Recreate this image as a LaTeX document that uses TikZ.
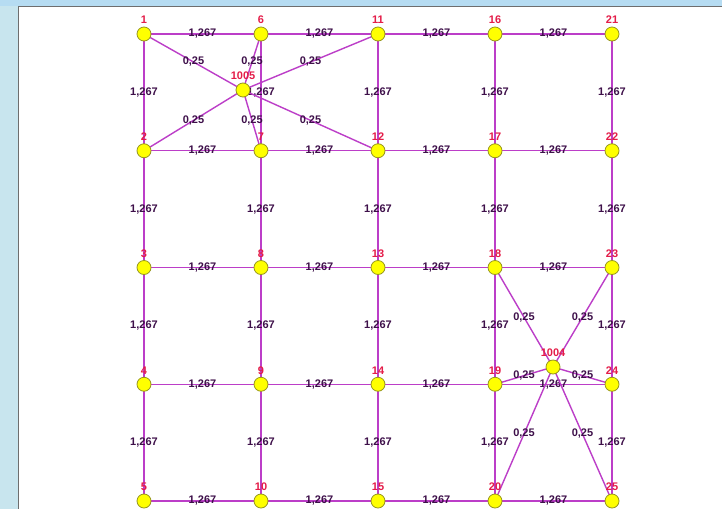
\documentclass[tikz,border=0pt]{standalone}
\usepackage{fontspec}
\setmainfont{Liberation Sans}
\pgfdeclarelayer{back}
\pgfdeclarelayer{edges}
\pgfsetlayers{back,edges,main}
\definecolor{edgec}{RGB}{188,62,200}
\definecolor{wtc}{RGB}{62,16,74}
\definecolor{idc}{RGB}{228,28,72}
\definecolor{nodefill}{RGB}{255,255,0}
\definecolor{nodeline}{RGB}{150,150,30}
\definecolor{bluebg}{RGB}{200,229,238}
\definecolor{bluetop}{RGB}{182,220,242}
\definecolor{panelline}{RGB}{110,110,110}
\tikzset{
  vtx/.style={circle, fill=nodefill, draw=nodeline, line width=0.8pt, minimum size=14pt, inner sep=0pt},
  idlab/.style={text=idc, font=\bfseries\fontsize{11}{11}\selectfont, inner sep=0pt},
  edge/.style={draw=edgec, line width=1.4pt},
  wt/.style={text=wtc, font=\bfseries\fontsize{11}{11}\selectfont, inner sep=0pt, midway},
}
\begin{document}
\begin{tikzpicture}[x=1pt,y=-1pt]
\useasboundingbox (0,0) rectangle (722,509);
\begin{pgfonlayer}{back}
  \fill[bluebg] (0,0) rectangle (722,509);
  \fill[bluetop] (0,0) rectangle (722,6);
  \fill[white] (18,6) rectangle (722,509);
  \draw[panelline, line width=1pt] (722,6) -- (18,6) -- (18,509);
\end{pgfonlayer}
% grid vertices
\foreach \c in {0,...,4} {
  \foreach \r in {1,...,5} {
    \pgfmathtruncatemacro\i{5*\c+\r}
    \node[vtx, label={[idlab, label distance=2.5pt]above:\i}] (n\i) at ({144+117*\c},{34+116.75*(\r-1)}) {};
  }
}
\node[vtx, label={[idlab, label distance=2.5pt]above:1005}] (n1005) at (243,90) {};
\node[vtx, label={[idlab, label distance=2.5pt]above:1004}] (n1004) at (553,367) {};
\begin{pgfonlayer}{edges}
  % horizontal edges
  \foreach \c in {0,...,3} {
    \foreach \r in {1,...,5} {
      \pgfmathtruncatemacro\a{5*\c+\r}
      \pgfmathtruncatemacro\b{\a+5}
      \draw[edge] (n\a.center) -- node[wt]{1,267} (n\b.center);
    }
  }
  % vertical edges
  \foreach \c in {0,...,4} {
    \foreach \r in {1,...,4} {
      \pgfmathtruncatemacro\a{5*\c+\r}
      \pgfmathtruncatemacro\b{\a+1}
      \draw[edge] (n\a.center) -- node[wt]{1,267} (n\b.center);
    }
  }
  % hub 1005
  \foreach \k in {1,6,11,2,7,12} {
    \draw[edge] (n\k.center) -- node[wt]{0,25} (n1005.center);
  }
  % hub 1004
  \foreach \k in {18,23,19,24,20,25} {
    \draw[edge] (n\k.center) -- node[wt]{0,25} (n1004.center);
  }
\end{pgfonlayer}
\end{tikzpicture}
\end{document}
